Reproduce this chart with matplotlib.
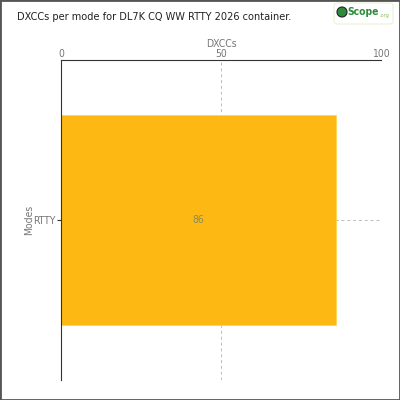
import matplotlib.pyplot as plt
from matplotlib.patches import FancyBboxPatch, Rectangle, Circle

# data
modes = ['RTTY']
dxccs = [86]
x_ticks = [0, 50, 100]
title = 'DXCCs per mode for DL7K CQ WW RTTY 2026 container.'

plt.rcParams['font.family'] = ['DejaVu Sans']
plt.rcParams['font.stretch'] = 'condensed'

fig = plt.figure(figsize=(4, 4), dpi=100)
ax = fig.add_axes([61 / 400, 20 / 400, 320 / 400, 320 / 400])

bars = ax.barh(modes, dxccs, height=0.8, color='#FDB813', edgecolor='#FFD54F', linewidth=0.6, zorder=2)
for b, v in zip(bars, dxccs):
    ax.text(b.get_width() / 2, b.get_y() + b.get_height() / 2, str(v),
            ha='center', va='center', fontsize=7.5, color='#8a8a5a', zorder=3)

ax.set_xlim(0, 100)
ax.set_ylim(-0.61, 0.61)
ax.set_xticks(x_ticks)
ax.xaxis.tick_top()
ax.xaxis.set_label_position('top')
ax.set_xlabel('DXCCs', fontsize=7.5, color='#777777', labelpad=1.5)
ax.set_ylabel('Modes', fontsize=7.5, color='#777777', labelpad=-1)
ax.tick_params(axis='x', length=0, labelsize=7.5, labelcolor='#777777', pad=1)
ax.tick_params(axis='y', length=3, width=0.8, color='#333333', labelsize=7.5, labelcolor='#777777', pad=1)

for s in ['right', 'bottom']:
    ax.spines[s].set_visible(False)
for s in ['left', 'top']:
    ax.spines[s].set_color('#333333')
    ax.spines[s].set_linewidth(0.8)

ax.grid(True, axis='both', linestyle=(0, (3, 3)), color='#bbbbbb', linewidth=0.7, zorder=1)
ax.set_axisbelow(True)

fig.text(17 / 400, 1 - 17 / 400, title, fontsize=7.8, color='#222222', va='center', ha='left')

# logo
fig.patches.append(FancyBboxPatch((334 / 400, 1 - 24 / 400), 59 / 400, 21 / 400,
                                  boxstyle='round,pad=0,rounding_size=0.008',
                                  transform=fig.transFigure, facecolor='white',
                                  edgecolor='#e6edc8', linewidth=0.6))
fig.patches.append(Circle((342 / 400, 1 - 12 / 400), 5 / 400, transform=fig.transFigure,
                          facecolor='#2e8b3a', edgecolor='#222222', linewidth=0.8))
fig.text(347 / 400, 1 - 12 / 400, 'Scope', fontsize=7.5, fontweight='bold', color='#2e8b3a', va='center')
fig.text(379 / 400, 1 - 15 / 400, '.org', fontsize=4, color='#8fbf5f', va='center')

# figure border
fig.patches.append(Rectangle((0, 0), 1, 1, transform=fig.transFigure, fill=False,
                             edgecolor='#555555', linewidth=2))

fig.savefig('out.png', dpi=100)
